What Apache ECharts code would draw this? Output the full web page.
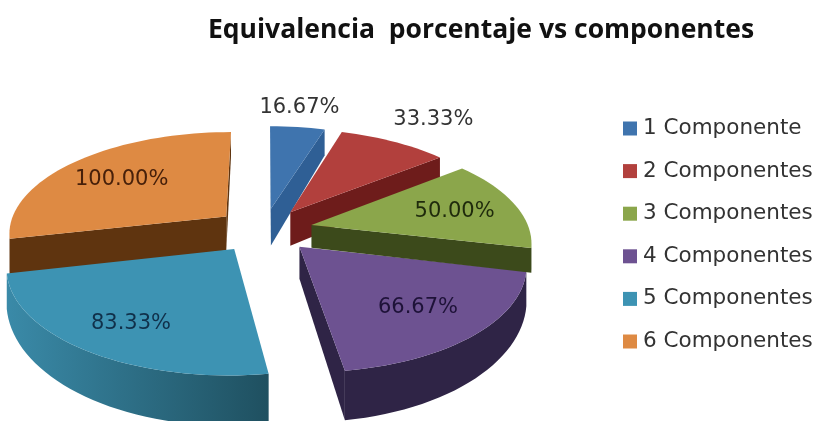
<!DOCTYPE html>
<html>
<head>
<meta charset="utf-8">
<title>Equivalencia porcentaje vs componentes</title>
<script src="https://cdn.jsdelivr.net/npm/echarts@6/dist/echarts.min.js"></script>
<style>
html, body { margin: 0; padding: 0; background: #fff; }
#chart { width: 819px; height: 421px; }
</style>
</head>
<body>
<div id="chart"></div>
<script>
var categories = ['1 Componente', '2 Componentes', '3 Componentes', '4 Componentes', '5 Componentes', '6 Componentes'];
var values = [16.67, 33.33, 50.00, 66.67, 83.33, 100.00];

var topColors = ['#3f74ae', '#b2403d', '#8ba64b', '#6d5291', '#3d93b3', '#de8a43'];
var cutColors = ['#2f5f95', '#6e1c1b', '#3c4a1b', '#2f2446', '#1f5568', '#5f340f'];
var wallLeft = ['#3a6ea6', '#7d2422', '#4a5c22', '#2f2446', '#3a8aa8', '#6b3c14'];
var wallRight = ['#2f5f95', '#6e1c1b', '#3c4a1b', '#2f2446', '#1f5060', '#5f340f'];
var labelColors = ['#333333', '#333333', '#1f2a0c', '#1e1238', '#10304a', '#47200a'];
var labelRadius = [1.31, 1.40, 0.70, 0.70, 0.74, 0.68];
var labelNudge = [-5, 4, 0, 0, 3, 0];
var drawOrder = [1, 2, 4, 3, 6, 5]; // z of each slice, back to front
var sliceDepth = [40, 36, 23, 30, 30, 36];
var sliceShift = [-1, -1, 0, 1, -3, -2];

// projection of the tilted pie
var cx = 265, cy = 230, rx = 218, ry = 101, persp = 0.152;
var explode = 0.22;

var total = values.reduce(function (a, b) { return a + b; }, 0);

function project(X, Y, i) {
	var s = 1 / (1 + persp * Y);
	return { x: cx + sliceShift[i] + rx * X * s, y: cy - ry * Y * s, d: sliceDepth[i] * Math.pow(s, 2.6) };
}

function wallShape(run, fill, fill2) {
	var pts = [];
	run.forEach(function (p) { pts.push([p.x, p.y]); });
	run.slice().reverse().forEach(function (p) { pts.push([p.x, p.y + p.d]); });
	var color = fill2 ? new echarts.graphic.LinearGradient(0, 0, 1, 0, [
		{ offset: 0, color: fill }, { offset: 1, color: fill2 }
	]) : fill;
	return { type: 'polygon', shape: { points: pts }, style: { fill: color } };
}

function renderSlice(i) {
	return function (params, api) {
		var value = api.value(0);
		var before = 0;
		for (var k = 0; k < i; k++) before += values[k];
		var a0 = before / total * Math.PI * 2;
		var a1 = (before + value) / total * Math.PI * 2;
		var mid = (a0 + a1) / 2;
		var ox = Math.sin(mid) * explode, oy = Math.cos(mid) * explode;

		var apex = project(ox, oy, i);
		var arc = [];
		var steps = Math.ceil((a1 - a0) / 0.04);
		for (var n = 0; n <= steps; n++) {
			var t = a0 + (a1 - a0) * n / steps;
			arc.push(project(ox + Math.sin(t), oy + Math.cos(t), i));
		}

		var children = [];
		// cut edges, only when they face the viewer
		if (apex.x > arc[0].x) children.push(wallShape([apex, arc[0]], cutColors[i]));
		if (arc[arc.length - 1].x > apex.x) children.push(wallShape([arc[arc.length - 1], apex], cutColors[i]));
		// outer rim
		var run = [];
		for (var j = 0; j < arc.length - 1; j++) {
			if (arc[j + 1].x < arc[j].x) {
				if (!run.length) run.push(arc[j]);
				run.push(arc[j + 1]);
			}
		}
		if (run.length) children.push(wallShape(run.slice().reverse(), wallLeft[i], wallRight[i]));

		var top = [[apex.x, apex.y]].concat(arc.map(function (p) { return [p.x, p.y]; }));
		children.push({ type: 'polygon', shape: { points: top }, style: { fill: topColors[i] } });

		var lp = project(ox + Math.sin(mid) * labelRadius[i], oy + Math.cos(mid) * labelRadius[i], i);
		children.push({
			type: 'text',
			style: {
				x: lp.x + labelNudge[i], y: lp.y + 2,
				text: value.toFixed(2) + '%',
				fill: labelColors[i],
				font: '21px "DejaVu Sans"',
				align: 'center', verticalAlign: 'middle'
			}
		});
		return { type: 'group', children: children };
	};
}

var myChart = echarts.init(document.getElementById('chart'));
var option = {
	backgroundColor: '#fff',
	animation: false,
	title: {
		text: 'Equivalencia  porcentaje vs componentes',
		left: 203,
		top: 12,
		textStyle: { fontFamily: 'Open Sans', fontWeight: 'bold', fontSize: 26.5, color: '#111' }
	},
	legend: {
		orient: 'vertical',
		left: 618,
		top: 111,
		icon: 'rect',
		itemWidth: 14,
		itemHeight: 14,
		itemGap: 17.6,
		data: categories,
		selectedMode: false,
		textStyle: { fontFamily: 'DejaVu Sans', fontSize: 21.5, color: '#333', height: 25, lineHeight: 25, padding: [0, 0, 0, 1] }
	},
	series: categories.map(function (name, i) {
		return {
			type: 'custom',
			name: name,
			coordinateSystem: 'none',
			z: drawOrder[i],
			itemStyle: { color: topColors[i] },
			renderItem: renderSlice(i),
			encode: { value: 0 },
			data: [[values[i]]]
		};
	})
};
if (option && typeof option === 'object') {
	myChart.setOption(option, true);
}
</script>
</body>
</html>
